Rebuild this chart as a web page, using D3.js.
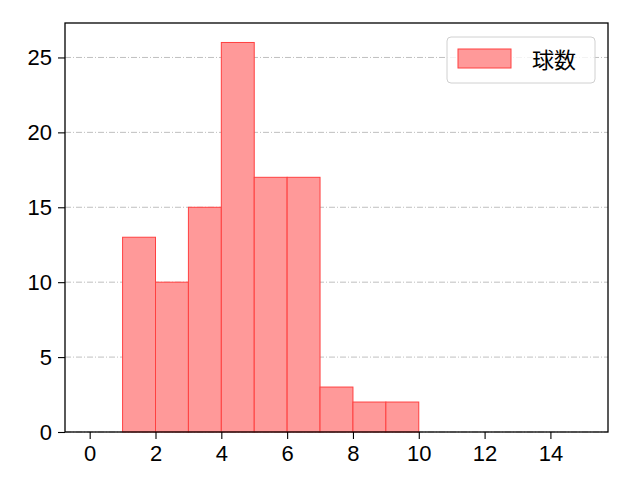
<!DOCTYPE html>
<html>
<head>
<meta charset="utf-8">
<script src="https://cdn.jsdelivr.net/npm/d3@7"></script>
<style>
  body { margin: 0; background: #fff; }
  text { font-family: "Noto Sans CJK JP", "DejaVu Sans", sans-serif; }
</style>
</head>
<body>
<div id="chart"></div>
<script>
/* DATA */
const binStarts = [1, 2, 3, 4, 5, 6, 7, 8, 9];
const counts = [13, 10, 15, 26, 17, 17, 3, 2, 2];
const xTicks = [0, 2, 4, 6, 8, 10, 12, 14];
const yTicks = [0, 5, 10, 15, 20, 25];
const seriesName = "球数";

const W = 640, H = 480,
  margin = {top: 23, right: 32, bottom: 48, left: 65};

const svg = d3.select("#chart").append("svg")
  .attr("width", W).attr("height", H);

const x = d3.scaleLinear().domain([-0.75, 15.75])
  .range([margin.left, W - margin.right]);
const y = d3.scaleLinear().domain([0, 27.3])
  .range([H - margin.bottom, margin.top]);

// grid
svg.append("g")
  .selectAll("line")
  .data(yTicks)
  .join("line")
  .attr("x1", margin.left).attr("x2", W - margin.right)
  .attr("y1", d => y(d)).attr("y2", d => y(d))
  .attr("stroke", "#b0b0b0").attr("stroke-width", 0.8)
  .attr("stroke-dasharray", "6,2,1,2");

// bars
svg.append("g")
  .selectAll("rect")
  .data(binStarts)
  .join("rect")
  .attr("x", d => x(d))
  .attr("y", (d, i) => y(counts[i]))
  .attr("width", d => x(d + 1) - x(d))
  .attr("height", (d, i) => y(0) - y(counts[i]))
  .attr("fill", "#ff9999")
  .attr("stroke", "#ff4040")
  .attr("stroke-width", 1);

// axes
const xAxis = svg.append("g")
  .attr("transform", `translate(0,${H - margin.bottom})`)
  .call(d3.axisBottom(x).tickValues(xTicks).tickSize(7).tickPadding(6));
const yAxis = svg.append("g")
  .attr("transform", `translate(${margin.left},0)`)
  .call(d3.axisLeft(y).tickValues(yTicks).tickSize(7).tickPadding(6));

[xAxis, yAxis].forEach(a => {
  a.select(".domain").remove();
  a.selectAll("text").attr("font-size", 22).attr("fill", "#000")
    .style("font-family", "\"Liberation Sans\", Arial, sans-serif");
  a.selectAll("line").attr("stroke", "#000").attr("stroke-width", 1.1);
});

// frame
svg.append("rect")
  .attr("x", margin.left).attr("y", margin.top)
  .attr("width", W - margin.left - margin.right)
  .attr("height", H - margin.top - margin.bottom)
  .attr("fill", "none").attr("stroke", "#000").attr("stroke-width", 1.3);

// legend
const legend = svg.append("g");
legend.append("rect")
  .attr("x", 447).attr("y", 37).attr("width", 148).attr("height", 46)
  .attr("rx", 4).attr("fill", "#fff").attr("fill-opacity", 0.8)
  .attr("stroke", "#d0d0d0");
legend.append("rect")
  .attr("x", 458).attr("y", 49).attr("width", 53).attr("height", 19)
  .attr("fill", "#ff9999").attr("stroke", "#ff4040");
legend.append("text")
  .attr("x", 532).attr("y", 68)
  .attr("font-size", 22)
  .text(seriesName);
</script>
</body>
</html>
